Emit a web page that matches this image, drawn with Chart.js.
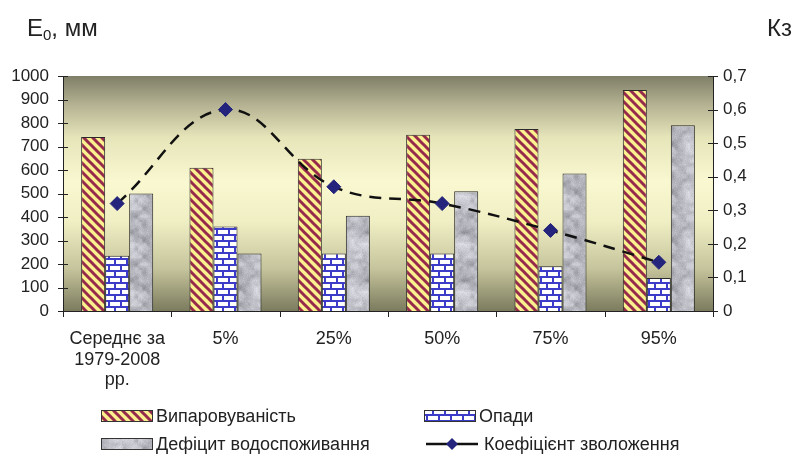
<!DOCTYPE html>
<html>
<head>
<meta charset="utf-8">
<script src="https://cdn.jsdelivr.net/npm/chart.js@4.4.1/dist/chart.umd.min.js"></script>
<style>
  html, body { margin: 0; padding: 0; background: #ffffff; }
  #wrap { position: relative; width: 798px; height: 455px; }
</style>
</head>
<body>
<div id="wrap"><canvas id="chart" width="798" height="455"></canvas></div>
<script>
// Categories (probability levels) and series values
const categories = [['Середнє за', '1979-2008', 'рр.'], '5%', '25%', '50%', '75%', '95%'];
const evaporation   = [740, 610, 648, 750, 775, 940];   // Випаровуваність, мм
const precipitation = [235, 360, 245, 245, 190, 140];   // Опади, мм
const deficit       = [500, 245, 405, 510, 585, 790];   // Дефіцит водоспоживання, мм
const moistureCoef  = [0.32, 0.60, 0.37, 0.32, 0.24, 0.145]; // Коефіцієнт зволоження

// Axis ranges
const leftAxis  = { min: 0, max: 1000, step: 100 };
const rightAxis = { min: 0, max: 0.7, step: 0.1 };

const seriesNames = ['Випаровуваність', 'Опади', 'Дефіцит водоспоживання', 'Коефіцієнт зволоження'];

const FONT = '"Liberation Sans", Arial, sans-serif';
const TEXT = '#222222';

const canvas = document.getElementById('chart');
const ctx = canvas.getContext('2d');

// ---- fill patterns ----
function stripePattern() {
  const T = 9;
  const c = document.createElement('canvas');
  c.width = T; c.height = T;
  const g = c.getContext('2d');
  g.fillStyle = '#faf18e';
  g.fillRect(0, 0, T, T);
  g.strokeStyle = '#962a4c';
  g.lineWidth = 3;
  for (let k = -2 * T; k <= 2 * T; k += T) {
    g.beginPath();
    g.moveTo(k - 2, -2);
    g.lineTo(k + T + 2, T + 2);
    g.stroke();
  }
  return ctx.createPattern(c, 'repeat');
}

function brickPattern() {
  const c = document.createElement('canvas');
  c.width = 12; c.height = 12;
  const g = c.getContext('2d');
  g.fillStyle = '#ffffff';
  g.fillRect(0, 0, 12, 12);
  g.fillStyle = '#3c3cc8';
  g.fillRect(0, 0, 12, 2);
  g.fillRect(0, 6, 12, 2);
  g.fillRect(0, 0, 2, 6);
  g.fillRect(6, 6, 2, 6);
  return ctx.createPattern(c, 'repeat');
}

function granitePattern() {
  const S = 48;
  const c = document.createElement('canvas');
  c.width = S; c.height = S;
  const g = c.getContext('2d');
  const img = g.createImageData(S, S);
  const hash = (x, y) => { const n = Math.sin(x * 127.1 + y * 311.7) * 43758.5453; return n - Math.floor(n); };
  const noise = (x, y, cell) => {
    const p = S / cell;
    const x0 = Math.floor(x / cell), y0 = Math.floor(y / cell);
    const fx = x / cell - x0, fy = y / cell - y0;
    const a = hash(x0 % p, y0 % p), b = hash((x0 + 1) % p, y0 % p);
    const c2 = hash(x0 % p, (y0 + 1) % p), d = hash((x0 + 1) % p, (y0 + 1) % p);
    const sx = fx * fx * (3 - 2 * fx), sy = fy * fy * (3 - 2 * fy);
    return a + (b - a) * sx + (c2 - a) * sy + (a - b - c2 + d) * sx * sy;
  };
  for (let y = 0; y < S; y++) {
    for (let x = 0; x < S; x++) {
      const v = 0.5 * noise(x, y, 8) + 0.35 * noise(x, y, 4) + 0.15 * hash(x + 3, y + 7);
      const gray = 140 + v * 100;
      const i = (y * S + x) * 4;
      img.data[i] = gray - 3;
      img.data[i + 1] = gray - 2;
      img.data[i + 2] = gray + 6;
      img.data[i + 3] = 255;
    }
  }
  g.putImageData(img, 0, 0);
  return ctx.createPattern(c, 'repeat');
}

const fills = [stripePattern(), brickPattern(), granitePattern()];

// ---- plugins ----
const plotBackground = {
  id: 'plotBackground',
  beforeDraw(chart) {
    const { ctx: c, chartArea: a } = chart;
    const gr = c.createLinearGradient(0, a.top, 0, a.bottom);
    gr.addColorStop(0.00, '#7f7f68');
    gr.addColorStop(0.12, '#b3b191');
    gr.addColorStop(0.26, '#e6e4b9');
    gr.addColorStop(0.45, '#faf8d0');
    gr.addColorStop(0.62, '#f0eec3');
    gr.addColorStop(0.82, '#c6c49c');
    gr.addColorStop(1.00, '#7b7b5e');
    c.save();
    c.fillStyle = gr;
    c.fillRect(a.left, a.top, a.right - a.left, a.bottom - a.top);
    c.restore();
  }
};

const crossTicks = {
  id: 'crossTicks',
  afterDraw(chart) {
    const { ctx: c, chartArea: a, scales } = chart;
    c.save();
    c.strokeStyle = '#222';
    c.lineWidth = 1;
    c.beginPath();
    scales.y.ticks.forEach((t, i) => {
      const py = Math.round(scales.y.getPixelForTick(i)) + 0.5;
      c.moveTo(a.left - 5, py); c.lineTo(a.left + 5, py);
    });
    scales.y2.ticks.forEach((t, i) => {
      const py = Math.round(scales.y2.getPixelForTick(i)) + 0.5;
      c.moveTo(a.right - 5, py); c.lineTo(a.right + 5, py);
    });
    for (let i = 0; i <= categories.length; i++) {
      const px = Math.round(scales.x.getPixelForValue(i - 0.5)) + 0.5;
      c.moveTo(px, a.bottom); c.lineTo(px, a.bottom + 6);
    }
    c.stroke();
    c.restore();
  }
};

const axisTitles = {
  id: 'axisTitles',
  afterDraw(chart) {
    const c = chart.ctx;
    c.save();
    c.fillStyle = TEXT;
    c.textBaseline = 'alphabetic';
    c.textAlign = 'left';
    c.font = '24px ' + FONT;
    let x = 27;
    c.fillText('E', x, 36);
    x += c.measureText('E').width;
    c.font = '15px ' + FONT;
    c.fillText('0', x, 40);
    x += c.measureText('0').width;
    c.font = '24px ' + FONT;
    c.fillText(', мм', x, 36);
    c.fillText('Кз', 767, 36);
    c.restore();
  }
};

const sideLegend = {
  id: 'sideLegend',
  afterDraw(chart) {
    const c = chart.ctx;
    const items = [
      { ds: 0, x: 101, y: 416 },
      { ds: 1, x: 424, y: 416 },
      { ds: 2, x: 101, y: 444 },
      { ds: 3, x: 424, y: 444 }
    ];
    c.save();
    c.font = '18px ' + FONT;
    c.textBaseline = 'middle';
    c.textAlign = 'left';
    items.forEach(it => {
      const ds = chart.data.datasets[it.ds];
      if (ds.type === 'line') {
        c.strokeStyle = '#111';
        c.lineWidth = 2.5;
        c.beginPath();
        c.moveTo(it.x + 2, it.y); c.lineTo(it.x + 54, it.y);
        c.stroke();
        c.fillStyle = ds.pointBackgroundColor;
        const cx = it.x + 28, r = 6;
        c.beginPath();
        c.moveTo(cx, it.y - r); c.lineTo(cx + r, it.y); c.lineTo(cx, it.y + r); c.lineTo(cx - r, it.y);
        c.closePath(); c.fill();
        c.fillStyle = TEXT;
        c.fillText(ds.label, it.x + 60, it.y + 1);
      } else {
        c.fillStyle = ds.backgroundColor;
        c.fillRect(it.x, it.y - 6, 52, 12);
        c.strokeStyle = '#333';
        c.lineWidth = 1;
        c.strokeRect(it.x + 0.5, it.y - 5.5, 51, 11);
        c.fillStyle = TEXT;
        c.fillText(ds.label, it.x + 55, it.y + 1);
      }
    });
    c.restore();
  }
};

const fmtComma = v => String(Math.round(v * 10) / 10).replace('.', ',');

new Chart(ctx, {
  data: {
    labels: categories,
    datasets: [
      { type: 'bar', label: seriesNames[0], data: evaporation, backgroundColor: fills[0], borderColor: '#2a2a2a', borderWidth: 1, yAxisID: 'y', order: 1 },
      { type: 'bar', label: seriesNames[1], data: precipitation, backgroundColor: fills[1], borderColor: '#2a2a2a', borderWidth: 1, yAxisID: 'y', order: 1 },
      { type: 'bar', label: seriesNames[2], data: deficit, backgroundColor: fills[2], borderColor: '#2a2a2a', borderWidth: 1, yAxisID: 'y', order: 1 },
      { type: 'line', label: seriesNames[3], data: moistureCoef, yAxisID: 'y2', order: 0,
        borderColor: '#111111', borderWidth: 2.5, borderDash: [12, 8], tension: 0.4, fill: false,
        pointStyle: 'rectRot', pointRadius: 7, pointHoverRadius: 7,
        pointBackgroundColor: '#24247c', pointBorderColor: '#24247c', pointBorderWidth: 1 }
    ]
  },
  options: {
    responsive: false,
    animation: false,
    events: [],
    layout: { padding: { top: 76, left: 0, right: 0, bottom: 0 } },
    plugins: { legend: { display: false }, tooltip: { enabled: false } },
    datasets: { bar: { categoryPercentage: 0.665, barPercentage: 1.0 } },
    scales: {
      x: {
        offset: true,
        grid: { display: false, drawTicks: false },
        border: { display: true, color: '#222', width: 1 },
        ticks: { color: TEXT, font: { family: FONT, size: 18, lineHeight: 1.14 }, padding: 18, maxRotation: 0, autoSkip: false },
        afterFit: s => { s.height = 455 - 311; }
      },
      y: {
        position: 'left',
        min: leftAxis.min, max: leftAxis.max,
        grid: { display: false, drawTicks: false },
        border: { display: true, color: '#222', width: 1 },
        ticks: { stepSize: leftAxis.step, color: TEXT, font: { family: FONT, size: 17 }, padding: 14, callback: v => String(v) },
        afterFit: s => { s.width = 63; }
      },
      y2: {
        position: 'right',
        min: rightAxis.min, max: rightAxis.max,
        grid: { display: false, drawTicks: false },
        border: { display: true, color: '#222', width: 1 },
        ticks: { stepSize: rightAxis.step, color: TEXT, font: { family: FONT, size: 17 }, padding: 10, callback: v => fmtComma(v) },
        afterFit: s => { s.width = 798 - 713; }
      }
    }
  },
  plugins: [plotBackground, crossTicks, axisTitles, sideLegend]
});
</script>
</body>
</html>
